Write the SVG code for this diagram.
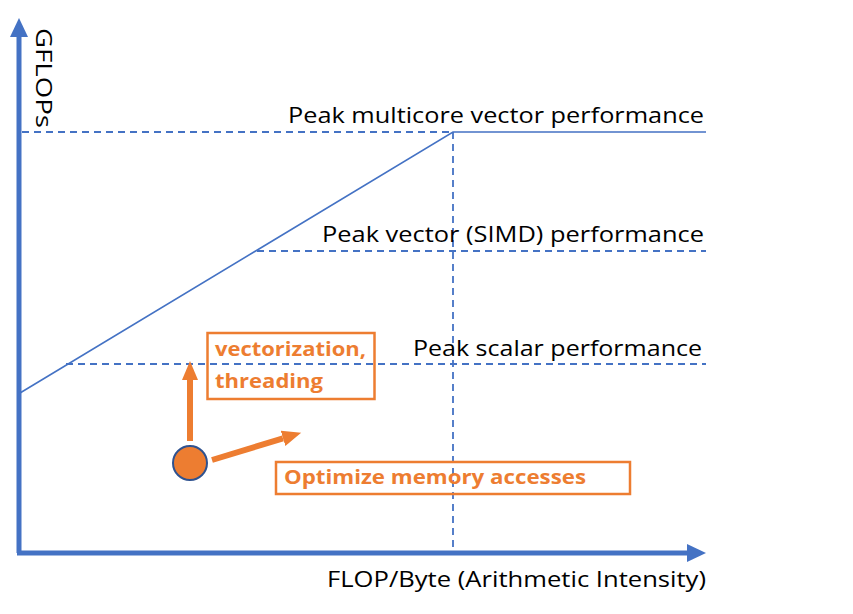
<svg xmlns="http://www.w3.org/2000/svg" width="853" height="614" viewBox="0 0 853 614">
<style>
.lbl{font-family:"Open Sans","Liberation Sans",sans-serif;font-size:22px;fill:#000}
.olbl{font-family:"Open Sans","Liberation Sans",sans-serif;font-size:20px;font-weight:bold;fill:#ED7D31}
.axis{stroke:#4472C4;stroke-width:5;fill:none}
.dash{stroke:#4472C4;stroke-width:1.8;stroke-dasharray:7 5;fill:none}
.roof{stroke:#4472C4;stroke-width:1.6;fill:none}
.obox{stroke:#ED7D31;stroke-width:2.5;fill:none}
.oarrow{stroke:#ED7D31;stroke-width:6;fill:none}
</style>
<defs>
<marker id="bhead" markerUnits="userSpaceOnUse" markerWidth="20" markerHeight="20" viewBox="0 0 20 20" refX="0" refY="10" orient="auto">
<path d="M0,1 L19,10 L0,19 Z" fill="#4472C4"/>
</marker>
<marker id="ohead" markerUnits="userSpaceOnUse" markerWidth="20" markerHeight="18" viewBox="0 0 20 18" refX="0" refY="9" orient="auto">
<path d="M0,1 L19,9 L0,17 Z" fill="#ED7D31"/>
</marker>
</defs>
<rect width="853" height="614" fill="#fff"/>
<g id="connectors">
<line class="axis" x1="19" y1="553" x2="19" y2="37" marker-end="url(#bhead)"/>
<line class="axis" x1="17" y1="553" x2="687" y2="553" marker-end="url(#bhead)"/>
<line class="dash" x1="22" y1="132" x2="453" y2="132"/>
<line class="dash" x1="453" y1="132" x2="453" y2="551"/>
<line class="dash" x1="257" y1="251" x2="706" y2="251"/>
<line class="dash" x1="66" y1="364" x2="706" y2="364"/>
<polyline class="roof" points="20,393 453,132 706,132"/>
<line class="oarrow" x1="190" y1="441" x2="190" y2="380" marker-end="url(#ohead)"/>
<line class="oarrow" x1="212" y1="460" x2="283" y2="438.3" marker-end="url(#ohead)"/>
</g>
<g id="y-label"><text class="lbl" transform="translate(36,28) rotate(90)" font-size="29" textLength="100" lengthAdjust="spacingAndGlyphs">GFLOPs</text></g>
<g id="x-label"><text class="lbl" x="327" y="587" textLength="379" lengthAdjust="spacingAndGlyphs">FLOP/Byte (Arithmetic Intensity)</text></g>
<g id="peak-multicore"><text class="lbl" x="288" y="123" textLength="416" lengthAdjust="spacingAndGlyphs">Peak multicore vector performance</text></g>
<g id="peak-vector"><text class="lbl" x="322" y="242" textLength="382" lengthAdjust="spacingAndGlyphs">Peak vector (SIMD) performance</text></g>
<g id="peak-scalar"><text class="lbl" x="413" y="356" textLength="289" lengthAdjust="spacingAndGlyphs">Peak scalar performance</text></g>
<g id="vectorization">
<rect class="obox" x="207.5" y="333" width="167" height="66"/>
<text class="olbl" x="215" y="356" textLength="151" lengthAdjust="spacingAndGlyphs">vectorization,</text>
<text class="olbl" x="215" y="388" textLength="108" lengthAdjust="spacingAndGlyphs">threading</text>
</g>
<g id="memory">
<rect class="obox" x="276" y="462" width="354" height="32"/>
<text class="olbl" x="284" y="484" textLength="302" lengthAdjust="spacingAndGlyphs">Optimize memory accesses</text>
</g>
<g id="point"><circle cx="190" cy="463" r="17" fill="#ED7D31" stroke="#2F528F" stroke-width="2"/></g>
</svg>
